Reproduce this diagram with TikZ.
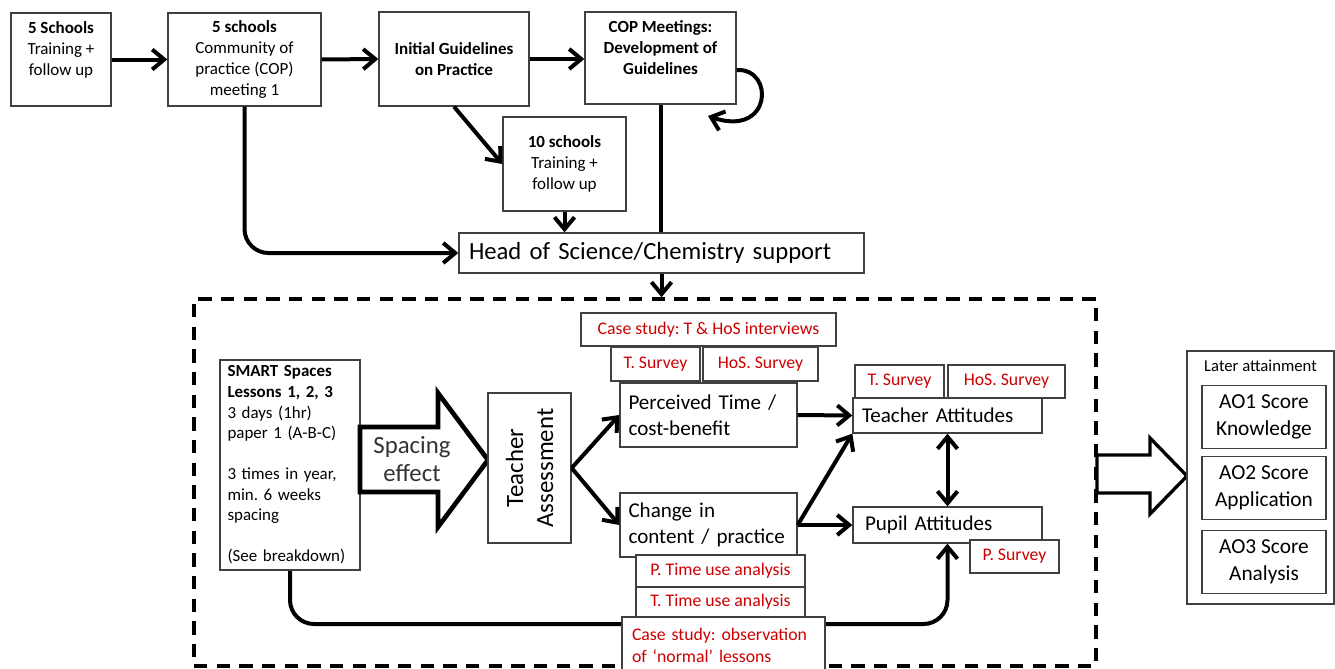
\documentclass[tikz,border=0pt]{standalone}
\usepackage{fontspec}
\setmainfont{Carlito}
\usepackage{xcolor}
\usepackage{tikz}
\usetikzlibrary{arrows.meta,backgrounds}
\definecolor{surveyred}{RGB}{204,0,0}
\newdimen\px
\px=0.75pt
\frenchspacing

\begin{document}
\begin{tikzpicture}[x={0.75pt},y={-0.75pt},
  >={Straight Barb[length=9pt,width=15pt]},
  box/.style={draw=black!75,line width=1pt,fill=white,inner sep=2pt},
  flow/.style={line width=3pt,->},
  smallbox/.style={box,align=center,font=\fontsize{12.75}{15.75}\selectfont},
  redbox/.style={box,text=surveyred,font=\fontsize{13.3}{15.5}\selectfont},
  bigbox/.style={box,align=left,font=\fontsize{15.8}{19.5}\selectfont}]
\useasboundingbox (0,0) rectangle (1335,668);

\node[smallbox,minimum width=100\px,minimum height=93\px] (five) at (61,59.5)
  {\textbf{5 Schools}\\Training +\\follow up\\~};
\node[smallbox,minimum width=153\px,minimum height=93\px] (cop1) at (244.5,59.5)
  {\textbf{5 schools}\\Community of\\practice (COP)\\meeting 1};
\node[smallbox,minimum width=150\px,minimum height=94\px] (guide) at (454,59)
  {\textbf{Initial Guidelines}\\\textbf{on Practice}};
\node[smallbox,minimum width=151\px,minimum height=92\px] (copdev) at (660.5,58)
  {\textbf{COP Meetings:}\\\textbf{Development of}\\\textbf{Guidelines}\\~};
\node[smallbox,minimum width=123\px,minimum height=94\px] (ten) at (564.5,164)
  {\textbf{10 schools}\\Training +\\follow up};
\node[box,text width=385\px,inner xsep=10\px,minimum height=40\px,align=left,
  font=\fontsize{18.5}{22}\selectfont] (hos) at (661.5,253) {Head of Science/Chemistry support};

\draw[flow] (five.east) -- (cop1.west);
\draw[flow] (cop1.east) -- (guide.west);
\draw[flow] (guide.east) -- (guide.east -| copdev.west);
\draw[flow] (guide.south) -- (ten.west);
\draw[flow] (ten.south) -- (ten.south |- hos.north);
\draw[line width=3pt] (copdev.south) -- (copdev.south |- hos.north);
\draw[flow,rounded corners=18pt] (cop1.south) |- (hos.west);
\draw[flow] ([yshift=-12\px]copdev.east) .. controls (775,68) and (772,138) .. (708,116);

\node[draw,line width=2.6pt,dash pattern=on 10pt off 7pt,minimum width=902\px,
  minimum height=367\px] (frame) at (645,482.5) {};
\draw[flow] (hos.south) -- (hos.south |- frame.north);

\node[box,text width=125\px,inner xsep=7.5\px,minimum height=210\px,align=left,
  font=\fontsize{12.7}{15.4}\selectfont] (smart) at (290,465)
  {\textbf{SMART Spaces}\\\textbf{Lessons 1, 2, 3}\\3 days (1hr)\\paper 1 (A-B-C)\\~\\3 times in year,\\min. 6 weeks\\spacing\\~\\(See breakdown)};

\draw[line width=3.5pt,line join=miter] (360,427) -- (438,427) -- (438,393) -- (488,460)
  -- (438,527) -- (438,492) -- (360,492) -- cycle;
\node[align=center,text=black!80,font=\fontsize{18.6}{21.5}\selectfont] (spacing) at (412,459)
  {Spacing\\effect};

\node[box,rotate=90,minimum width=150\px,minimum height=83\px,align=center,
  font=\fontsize{18.6}{22.5}\selectfont] (assess) at (529.5,468) {Teacher\\Assessment};

\node[redbox,minimum width=255\px,minimum height=33\px] (casetop) at (708.5,329.5)
  {Case study: T \& HoS interviews};
\node[redbox,minimum width=89\px,minimum height=34\px] (tsurvey1) at (655.5,364) {T. Survey};
\node[redbox,minimum width=115\px,minimum height=34\px] (hsurvey1) at (760.5,364) {HoS. Survey};

\node[bigbox,text width=160\px,inner xsep=8.5\px,minimum height=64\px] (perceived) at (708.5,415)
  {Perceived Time /\\cost-benefit};
\node[bigbox,text width=160\px,inner xsep=8.5\px,minimum height=64\px] (change) at (708.5,525)
  {Change in\\content / practice};
\node[redbox,minimum width=169\px,minimum height=32\px] (ptime) at (720.5,571) {P. Time use analysis};
\node[redbox,minimum width=169\px,minimum height=30\px] (ttime) at (720.5,602) {T. Time use analysis};
\node[redbox,text width=183\px,inner xsep=10\px,minimum height=56\px,align=left,
  font=\fontsize{13.3}{16.5}\selectfont] (observe) at (723.5,645)
  {Case study: observation\\of `normal' lessons};

\node[bigbox,text width=171\px,inner xsep=9\px,minimum height=35\px] (tattitude) at (947.5,415.5)
  {Teacher Attitudes};
\node[redbox,minimum width=89\px,minimum height=33\px] (tsurvey2) at (899.5,381.5) {T. Survey};
\node[redbox,minimum width=117\px,minimum height=33\px] (hsurvey2) at (1006.5,381.5) {HoS. Survey};
\node[bigbox,text width=165\px,inner xsep=12\px,minimum height=36\px] (pattitude) at (947.5,525)
  {Pupil Attitudes};
\node[redbox,minimum width=89\px,minimum height=33\px] (psurvey) at (1014.5,556.5) {P. Survey};

\draw[flow] (assess.south) -- (perceived.west);
\draw[flow] (assess.south) -- (change.west);
\draw[flow] (perceived.east) -- (tattitude.west);
\draw[flow] (change.east) -- (tattitude.south west);
\draw[flow] (change.east) -- (pattitude.west);
\draw[line width=3pt,<->] (tattitude.south) -- (pattitude.north);

\coordinate (bend) at (947.5,624);
\begin{pgfonlayer}{background}
\draw[flow,rounded corners=18pt] (smart.south) |- (bend) -- (pattitude.south);
\end{pgfonlayer}

\draw[line width=2.5pt,line join=miter] (1097,455) -- (1150,455) -- (1150,438) -- (1187,476)
  -- (1150,514) -- (1150,493) -- (1097,493) -- cycle;

\node[box,minimum width=147\px,minimum height=253\px,
  label={[anchor=north,yshift=-5\px,font=\fontsize{12.5}{15}\selectfont]north:Later attainment}]
  (later) at (1260.5,477.5) {};
\foreach \n/\y/\t in {1/417/Knowledge,2/488/Application,3/562/Analysis} {
\node[box,minimum width=124\px,minimum height=63\px,align=center,
  font=\fontsize{16}{20}\selectfont] (ao\n) at (1264,\y) {AO\n{} Score\\\t};
}
\end{tikzpicture}
\end{document}
